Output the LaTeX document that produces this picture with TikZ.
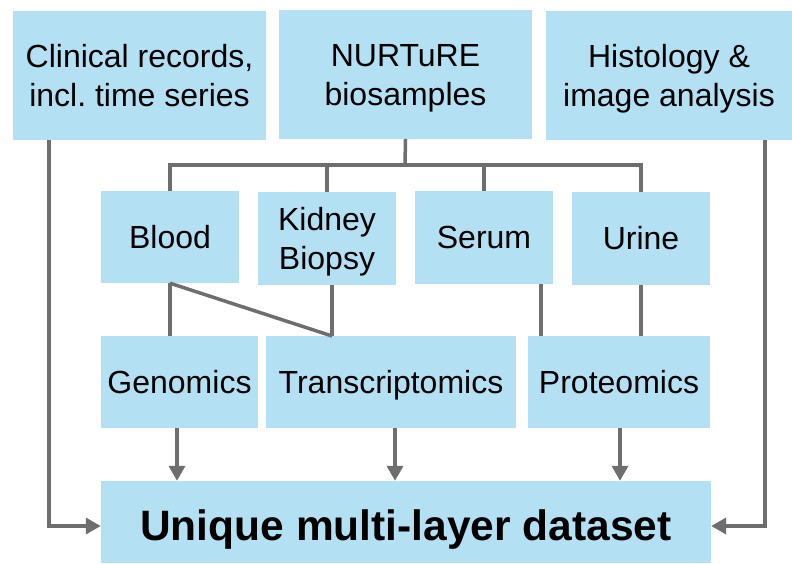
\documentclass[tikz,border=0pt]{standalone}
\usepackage{fontspec}
\setmainfont{Liberation Sans}
\usetikzlibrary{arrows.meta}
\definecolor{boxblue}{HTML}{B4E0F4}
\definecolor{linegray}{HTML}{6E6E6E}
\tikzset{
  box/.style={rectangle, fill=boxblue, draw=none, inner sep=0pt, align=center,
    font=\fontsize{32}{38.5}\selectfont, text=black, text height=22.9pt, text depth=0pt},
  twoline/.style={text height=61.4pt, text depth=0pt},
  conn/.style={draw=linegray, line width=3.5pt},
  arr/.style={conn, -{Triangle[length=15pt,width=16pt]}},
}
\begin{document}
\begin{tikzpicture}[x=1pt,y=-1pt]
\useasboundingbox (0,0) rectangle (792,563);
% top row
\node[box, twoline, minimum width=253pt, minimum height=129pt] (clin) at (139.5,75.5) {Clinical records,\\incl.\ time series};
\node[box, twoline, minimum width=253pt, minimum height=129pt] (nurt) at (405.5,74.5) {NURTuRE\\biosamples};
\node[box, twoline, minimum width=246pt, minimum height=129pt] (hist) at (669,75.5) {Histology \&\\image analysis};
% sample row
\node[box, minimum width=138pt, minimum height=92pt] (blood) at (170,237) {Blood};
\node[box, twoline, minimum width=138pt, minimum height=93pt] (kidney) at (327,238.5) {Kidney\\Biopsy};
\node[box, minimum width=138pt, minimum height=93pt] (serum) at (484,237.5) {Serum};
\node[box, minimum width=138pt, minimum height=93pt] (urine) at (641,238.5) {Urine};
% omics row
\node[box, minimum width=157pt, minimum height=92pt] (gen) at (179.5,382) {Genomics};
\node[box, minimum width=250pt, minimum height=92pt] (trans) at (391,382) {Transcriptomics};
\node[box, minimum width=182pt, minimum height=92pt] (prot) at (619,382) {Proteomics};
% result
\node[box, minimum width=610pt, minimum height=82pt, font=\fontsize{42.5}{50}\selectfont\bfseries,
  text height=37.4pt, text depth=0pt] (uniq) at (406,522) {Unique multi-layer dataset};
% helper coordinates
\coordinate (bus) at (405,165);
\coordinate (kt) at (332,336);
\coordinate (st) at (541,336);
\coordinate (cl) at (49,140);
\coordinate (hr) at (765,140);
% bracket from biosamples
\draw[conn] (nurt.south) -- (bus);
\draw[conn] (blood.north) -- (blood.north |- bus) -- (urine.north |- bus) -- (urine.north);
\draw[conn] (kidney.north) -- (kidney.north |- bus);
\draw[conn] (serum.north) -- (serum.north |- bus);
% samples to omics
\draw[conn] (blood.south) -- (blood.south |- gen.north);
\draw[conn] (blood.south) -- (kt);
\draw[conn] (kidney.south -| kt) -- (kt);
\draw[conn] (serum.south -| st) -- (st);
\draw[conn] (urine.south) -- (urine.south |- prot.north);
% omics to dataset
\draw[arr] ([xshift=-2.5pt]gen.south) -- ([xshift=-2.5pt]gen.south |- uniq.north);
\draw[arr] ([xshift=4pt]trans.south) -- ([xshift=4pt]trans.south |- uniq.north);
\draw[arr] ([xshift=1pt]prot.south) -- ([xshift=1pt]prot.south |- uniq.north);
% side inputs
\draw[arr] (cl) |- ([yshift=-4pt]uniq.west);
\draw[arr] (hr) |- ([yshift=-4pt]uniq.east);
\end{tikzpicture}
\end{document}
